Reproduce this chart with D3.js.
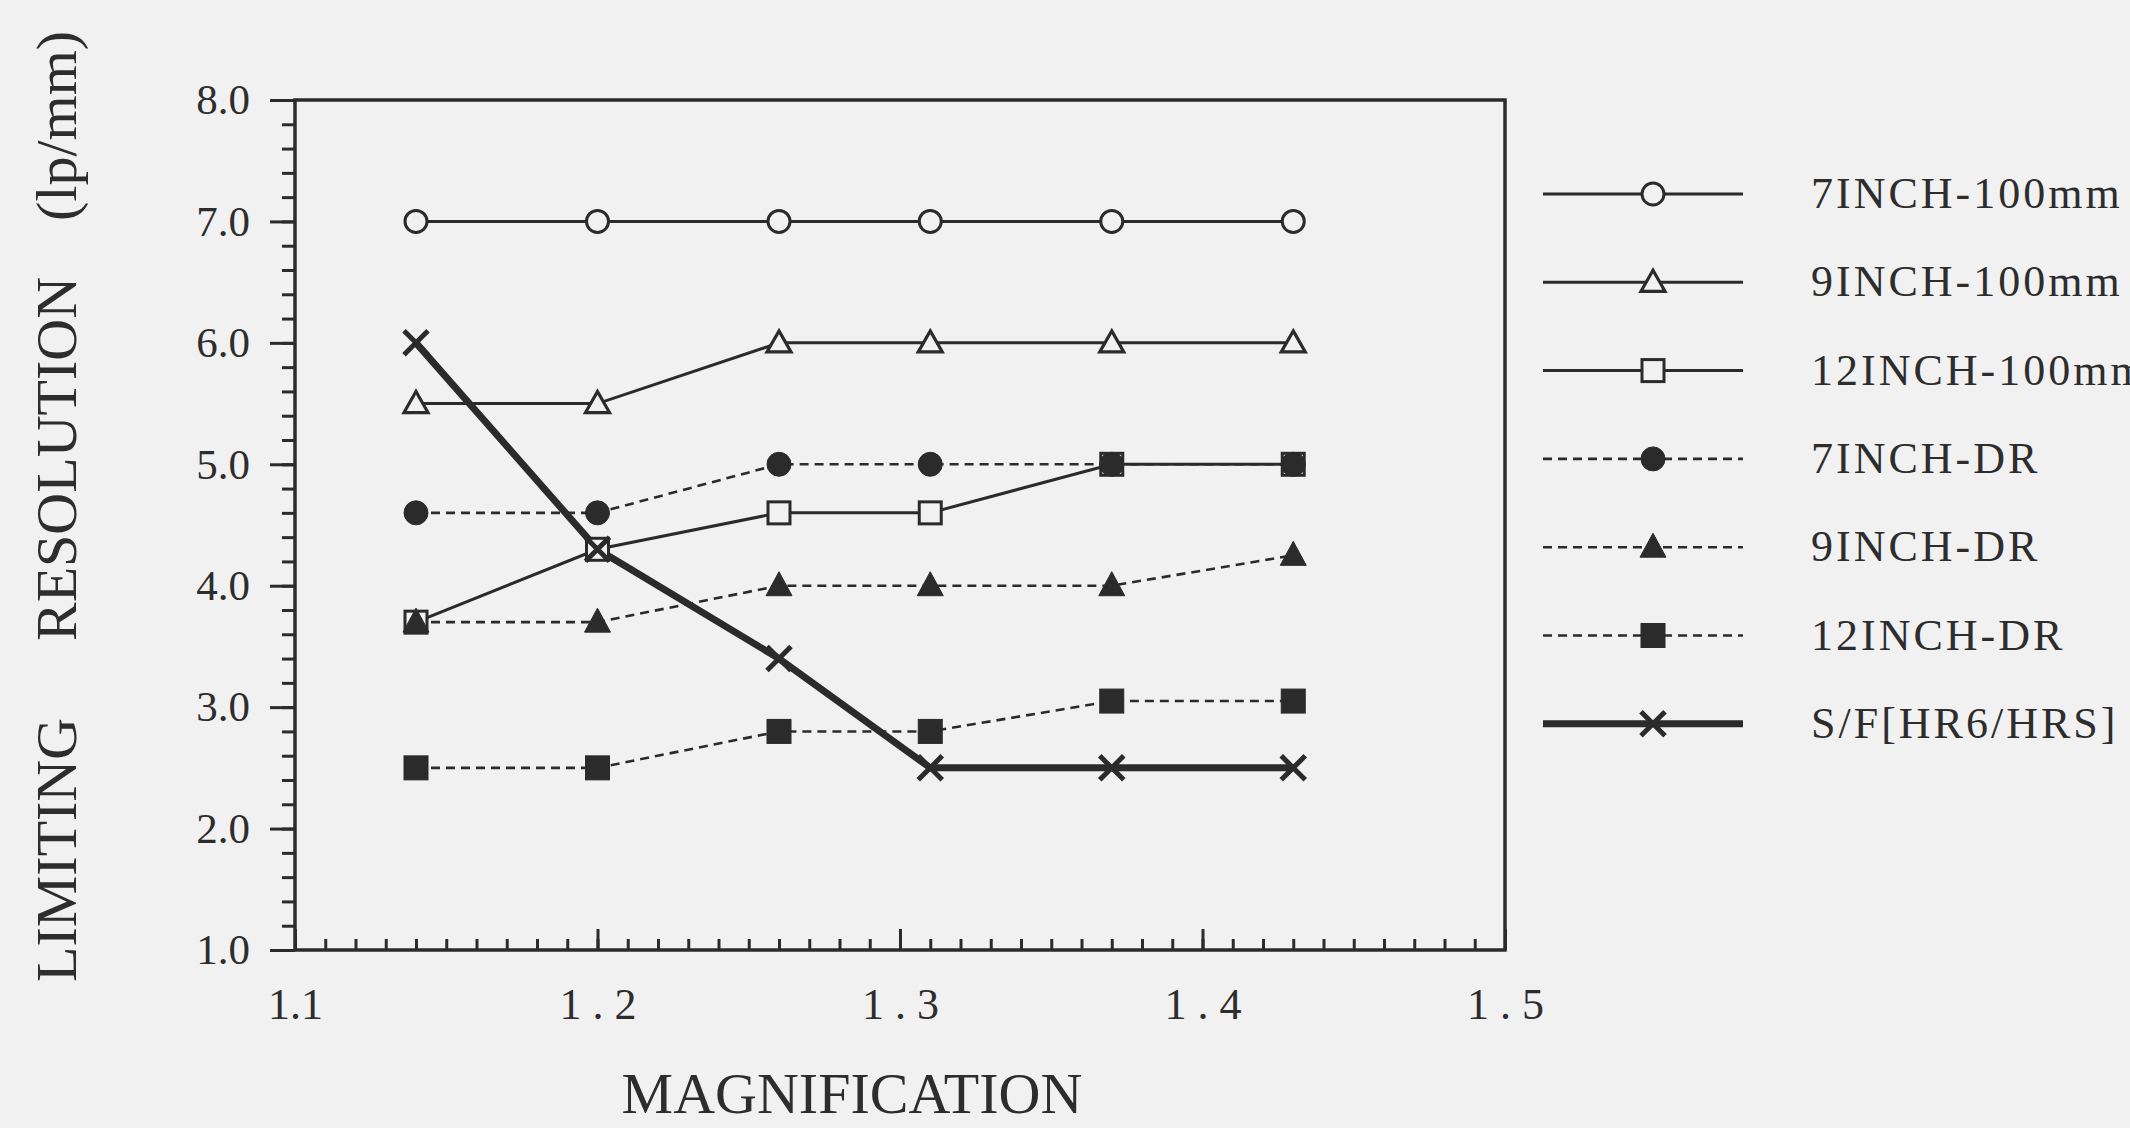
<!DOCTYPE html>
<html>
<head>
<meta charset="utf-8">
<script src="https://cdn.jsdelivr.net/npm/d3@7"></script>
<style>
  body { margin: 0; background: #f2f1f1; overflow: hidden; }
  svg { display: block; }
  text { font-family: "Liberation Serif", "DejaVu Serif", serif; fill: #2d2d2d; }
</style>
</head>
<body>
<script>
// magnification values (x) shared by every series
const magnification = [1.14, 1.20, 1.26, 1.31, 1.37, 1.43];

// limiting resolution (lp/mm) per series
const inch7_100mm  = [7.0, 7.0, 7.0, 7.0, 7.0, 7.0];
const inch9_100mm  = [5.5, 5.5, 6.0, 6.0, 6.0, 6.0];
const inch12_100mm = [3.7, 4.3, 4.6, 4.6, 5.0, 5.0];
const inch7_DR     = [4.6, 4.6, 5.0, 5.0, 5.0, 5.0];
const inch9_DR     = [3.7, 3.7, 4.0, 4.0, 4.0, 4.25];
const inch12_DR    = [2.5, 2.5, 2.8, 2.8, 3.05, 3.05];
const sf_hr6       = [6.0, 4.3, 3.4, 2.5, 2.5, 2.5];

const seriesNames = ["7INCH-100mm", "9INCH-100mm", "12INCH-100mm",
                     "7INCH-DR", "9INCH-DR", "12INCH-DR", "S/F[HR6/HRS]"];

const yTicks = [1, 2, 3, 4, 5, 6, 7, 8];
const xTicks = [1.1, 1.2, 1.3, 1.4, 1.5];
const xTickLabels = ["1.1", "1 . 2", "1 . 3", "1 . 4", "1 . 5"];

const yTitleParts = ["LIMITING", "RESOLUTION", "(lp/mm)"];
const xTitle = "MAGNIFICATION";

function draw(){
        const W = 2130, H = 1128;
        const ink = "#2b2b2b";
        const paper = "#f2f1f1";

        const svg = d3.select('body')
                .append('svg')
                .attr('width', W)
                .attr('height', H);

        svg.append('rect')
                .attr('width', W)
                .attr('height', H)
                .attr('fill', paper);

        const x = d3.scaleLinear()
                .domain([1.1, 1.5])
                .range([295, 1505]);

        const y = d3.scaleLinear()
                .domain([1, 8])
                .range([950, 100]);

        // y axis: minor ticks every 0.2, major ticks with labels
        svg.append('g')
        .attr('transform', "translate(" + x(1.1) + ",0)")
        .call(d3.axisLeft(y)
                .tickValues(d3.range(5, 41).map(d => d / 5))
                .tickSize(13)
                .tickFormat(''))
        .call(g => g.select('.domain').remove());

        svg.append('g')
        .attr('transform', "translate(" + x(1.1) + ",0)")
        .call(d3.axisLeft(y)
                .tickValues(yTicks)
                .tickSize(25)
                .tickPadding(20)
                .tickFormat(d3.format('.1f')))
        .call(g => g.select('.domain').remove())
        .attr('font-size', 43)
        .attr('font-family', null);

        // x axis: ticks point inward
        svg.append('g')
        .attr('transform', "translate(0," + y(1) + ")")
        .call(d3.axisBottom(x)
                .tickValues(d3.range(110, 151).map(d => d / 100))
                .tickSizeInner(-11)
                .tickSizeOuter(0)
                .tickFormat(''))
        .call(g => g.select('.domain').remove());

        svg.append('g')
        .attr('transform', "translate(0," + y(1) + ")")
        .call(d3.axisBottom(x)
                .tickValues(xTicks)
                .tickSizeInner(-21)
                .tickSizeOuter(0)
                .tickPadding(38)
                .tickFormat((d, i) => xTickLabels[i]))
        .call(g => g.select('.domain').remove())
        .attr('font-size', 44)
        .attr('font-family', null);

        svg.selectAll('.tick line')
        .attr('stroke', ink)
        .attr('stroke-width', 3);

        // frame
        svg.append('rect')
        .attr('x', x(1.1))
        .attr('y', y(8))
        .attr('width', x(1.5) - x(1.1))
        .attr('height', y(1) - y(8))
        .attr('fill', 'none')
        .attr('stroke', ink)
        .attr('stroke-width', 3.5);

        // axis titles
        const yTitleStart = [982, 641, 221];
        yTitleParts.forEach((t, i) => {
                svg.append('text')
                .attr('transform', "translate(76," + yTitleStart[i] + ") rotate(-90)")
                .attr('font-size', 58)
                .text(t);
        });

        svg.append('text')
        .attr('x', 852)
        .attr('y', 1113)
        .attr('text-anchor', 'middle')
        .attr('font-size', 58)
        .text(xTitle);

        // series
        const series = [
                {name: seriesNames[0], values: inch7_100mm,  shape: 'circle',   filled: false, dash: null,  width: 3},
                {name: seriesNames[1], values: inch9_100mm,  shape: 'triangle', filled: false, dash: null,  width: 3},
                {name: seriesNames[2], values: inch12_100mm, shape: 'square',   filled: false, dash: null,  width: 3},
                {name: seriesNames[3], values: inch7_DR,     shape: 'circle',   filled: true,  dash: '9,6', width: 2.6},
                {name: seriesNames[4], values: inch9_DR,     shape: 'triangle', filled: true,  dash: '9,6', width: 2.6},
                {name: seriesNames[5], values: inch12_DR,    shape: 'square',   filled: true,  dash: '9,6', width: 2.6},
                {name: seriesNames[6], values: sf_hr6,       shape: 'x',        filled: false, dash: null,  width: 7}
        ];

        function marker(g, s){
                if (s.shape == 'circle') {
                        g.append('circle')
                        .attr('r', s.filled ? 12 : 11)
                        .attr('fill', s.filled ? ink : paper)
                        .attr('stroke', ink)
                        .attr('stroke-width', s.filled ? 1 : 3);
                } else
                if (s.shape == 'triangle') {
                        g.append('path')
                        .attr('d', s.filled ? 'M0,-14L13,10L-13,10Z' : 'M0,-12L12,9L-12,9Z')
                        .attr('fill', s.filled ? ink : paper)
                        .attr('stroke', ink)
                        .attr('stroke-width', s.filled ? 1 : 3.2);
                } else
                if (s.shape == 'square') {
                        const h = s.filled ? 12 : 11;
                        g.append('rect')
                        .attr('x', -h).attr('y', -h)
                        .attr('width', 2 * h).attr('height', 2 * h)
                        .attr('fill', s.filled ? ink : paper)
                        .attr('stroke', ink)
                        .attr('stroke-width', s.filled ? 1 : 3);
                } else
                {
                        g.append('path')
                        .attr('d', 'M-12,-12L12,12M-12,12L12,-12')
                        .attr('fill', 'none')
                        .attr('stroke', ink)
                        .attr('stroke-width', 5);
                }
        }

        const line = d3.line()
                .x((d, i) => x(magnification[i]))
                .y(d => y(d));

        series.forEach(s => {
                svg.append('path')
                .datum(s.values)
                .attr('d', line)
                .attr('fill', 'none')
                .attr('stroke', ink)
                .attr('stroke-width', s.width)
                .attr('stroke-dasharray', s.dash);
        });

        series.forEach(s => {
                svg.append('g')
                .selectAll('g')
                .data(s.values)
                .enter()
                .append('g')
                .attr('transform', (d, i) => "translate(" + x(magnification[i]) + "," + y(d) + ")")
                .each(function(){ marker(d3.select(this), s); });
        });

        // legend (labels run past the right edge, as in the original)
        const legend = svg.append('g');
        series.forEach((s, i) => {
                const row = legend.append('g')
                        .attr('transform', "translate(0," + (194 + i * 88.3) + ")");
                row.append('line')
                .attr('x1', 1543).attr('x2', 1743)
                .attr('stroke', ink)
                .attr('stroke-width', s.width)
                .attr('stroke-dasharray', s.dash);
                const m = row.append('g').attr('transform', "translate(1653,0)");
                marker(m, s);
                row.append('text')
                .attr('x', 1811)
                .attr('y', 14)
                .attr('font-size', 44)
                .attr('letter-spacing', 3)
                .text(s.name);
        });
}

draw();
</script>
</body>
</html>
